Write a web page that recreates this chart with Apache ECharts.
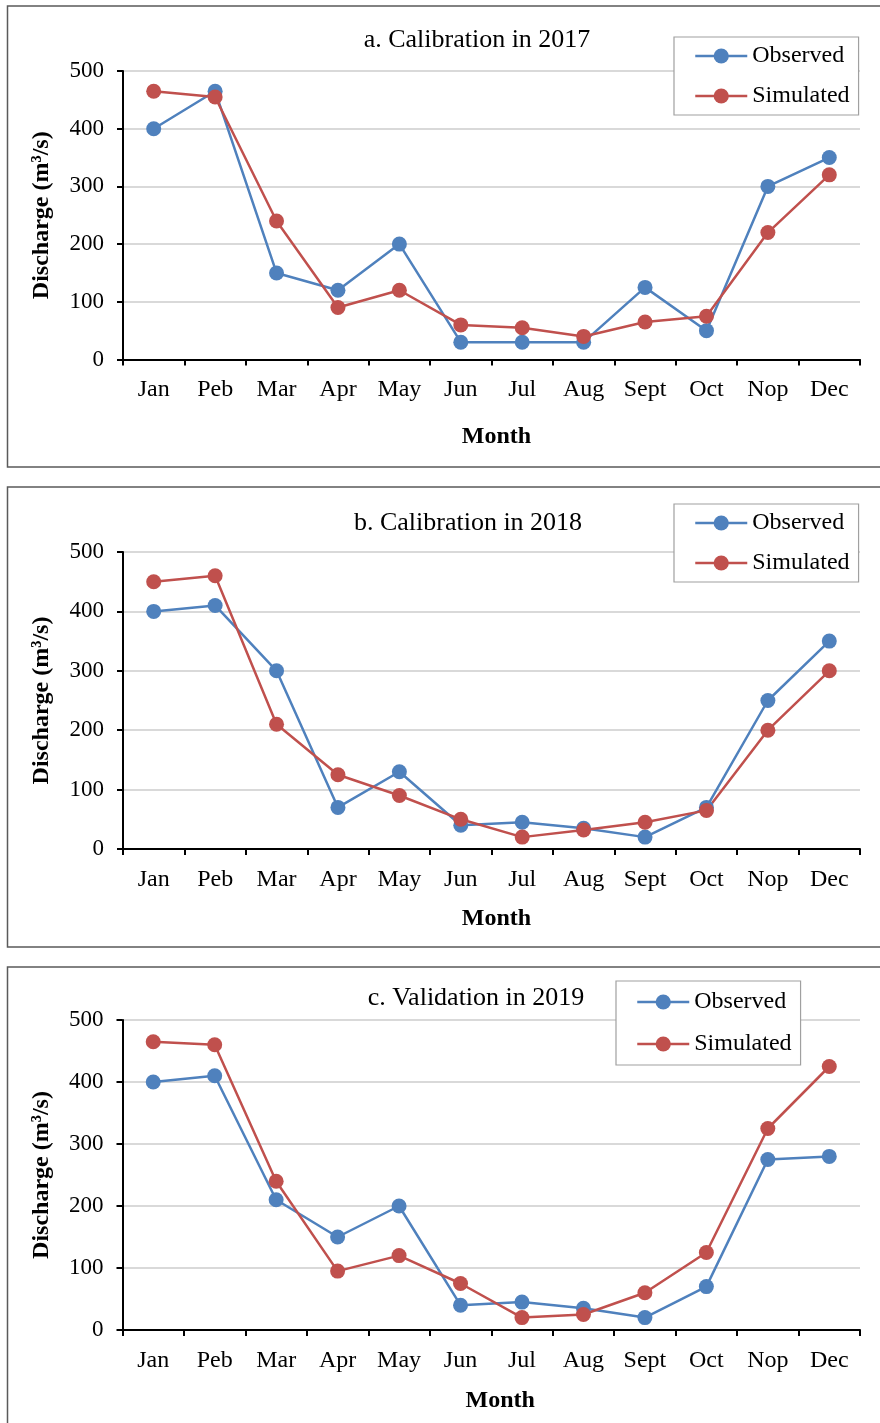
<!DOCTYPE html>
<html>
<head>
<meta charset="utf-8">
<script src="https://cdn.jsdelivr.net/npm/echarts@6/dist/echarts.min.js"></script>
<style>
html,body{margin:0;padding:0;background:#fff;}
#c{width:880px;height:1423px;}
</style>
</head>
<body>
<div id="c"></div>
<script>
const months = ['Jan','Peb','Mar','Apr','May','Jun','Jul','Aug','Sept','Oct','Nop','Dec'];
const yTicks = [0,100,200,300,400,500];
const titles = ['a. Calibration in 2017','b. Calibration in 2018','c. Validation in 2019'];
const seriesNames = ['Observed','Simulated'];

const obs2017 = [400,465,150,120,200,30,30,30,125,50,300,350];
const sim2017 = [465,455,240,90,120,60,55,40,65,75,220,320];
const obs2018 = [400,410,300,70,130,40,45,35,20,70,250,350];
const sim2018 = [450,460,210,125,90,50,20,32,45,65,200,300];
const obs2019 = [400,410,210,150,200,40,45,35,20,70,275,280];
const sim2019 = [465,460,240,95,120,75,20,25,60,125,325,425];

const obsData = [obs2017, obs2018, obs2019];
const simData = [sim2017, sim2018, sim2019];

const BLUE = '#4F81BD', RED = '#C0504D';
const FONT = '"Liberation Serif","Times New Roman",serif';

const panels = [
  {box:[7.5,6,900,461], grid:{left:123,top:71,width:737,height:288.5}, title:[477,40], legend:{left:674,top:37,gap:16,pad:7}, margin:18, nameGap:65.5, nameShift:10},
  {box:[7.5,487,900,460], grid:{left:123,top:552,width:737,height:297}, title:[468,523], legend:{left:674,top:504,gap:16,pad:7}, margin:19, nameGap:57.5, nameShift:10},
  {box:[7.5,967,900,500], grid:{left:122.5,top:1020,width:737.5,height:310}, title:[476,998], legend:{left:616,top:981,gap:18,pad:9}, margin:19, nameGap:59, nameShift:18}
];

const option = {
  animation:false,
  backgroundColor:'#fff',
  textStyle:{fontFamily:FONT},
  grid:[], xAxis:[], yAxis:[], series:[], legend:[], graphic:[]
};

panels.forEach((p,i)=>{
  option.graphic.push({type:'rect', shape:{x:p.box[0],y:p.box[1],width:p.box[2],height:p.box[3]},
    style:{fill:'none',stroke:'#5a5a5a',lineWidth:1.5}, z:-1});
  option.graphic.push({type:'text', x:p.title[0], y:p.title[1],
    style:{text:titles[i], font:'26px '+FONT, fill:'#000', textAlign:'center', textVerticalAlign:'middle'}});
  option.grid.push(Object.assign({containLabel:false}, p.grid));
  option.xAxis.push({type:'category', gridIndex:i, data:months, boundaryGap:true,
    axisLine:{lineStyle:{color:'#000',width:2}},
    axisTick:{show:true,interval:0,length:6,lineStyle:{color:'#000',width:2}},
    axisLabel:{interval:0,margin:p.margin,color:'#000',fontSize:24,fontFamily:FONT},
    name:'Month', nameLocation:'middle', nameGap:p.nameGap,
    nameTextStyle:{fontWeight:'bold',fontSize:24,color:'#000',fontFamily:FONT,padding:[0,0,0,p.nameShift]},
    splitLine:{show:false}});
  option.yAxis.push({type:'value', gridIndex:i, min:0, max:500, interval:100,
    axisLine:{show:true,lineStyle:{color:'#000',width:2}},
    axisTick:{show:true,length:6,lineStyle:{color:'#000',width:2}},
    axisLabel:{margin:19,color:'#000',fontSize:23,fontFamily:FONT},
    splitLine:{show:true,lineStyle:{color:'#D9D9D9',width:2}},
    name:'Discharge (m³/s)', nameLocation:'middle', nameGap:69, nameRotate:90,
    nameTextStyle:{fontWeight:'bold',fontSize:24,color:'#000',fontFamily:FONT}});
  const mk = (name,data,color)=>({
    type:'line', name:name, xAxisIndex:i, yAxisIndex:i, data:data,
    symbol:'circle', symbolSize:15, showSymbol:true,
    lineStyle:{color:color,width:2.5}, itemStyle:{color:color}
  });
  option.series.push(mk(seriesNames[0],obsData[i],BLUE));
  option.series.push(mk(seriesNames[1],simData[i],RED));
  option.legend.push({
    left:p.legend.left, top:p.legend.top, orient:'vertical',
    data:seriesNames, itemWidth:52, itemHeight:19, itemGap:p.legend.gap,
    padding:[p.legend.pad,9,p.legend.pad,20], borderColor:'#a0a0a0', borderWidth:1.2, backgroundColor:'#fff',
    lineStyle:{width:2.5},
    textStyle:{fontSize:24,color:'#000',fontFamily:FONT},
    selectedMode:false
  });
});

const chart = echarts.init(document.getElementById('c'),null,{renderer:'canvas'});
chart.setOption(option);
</script>
</body>
</html>
